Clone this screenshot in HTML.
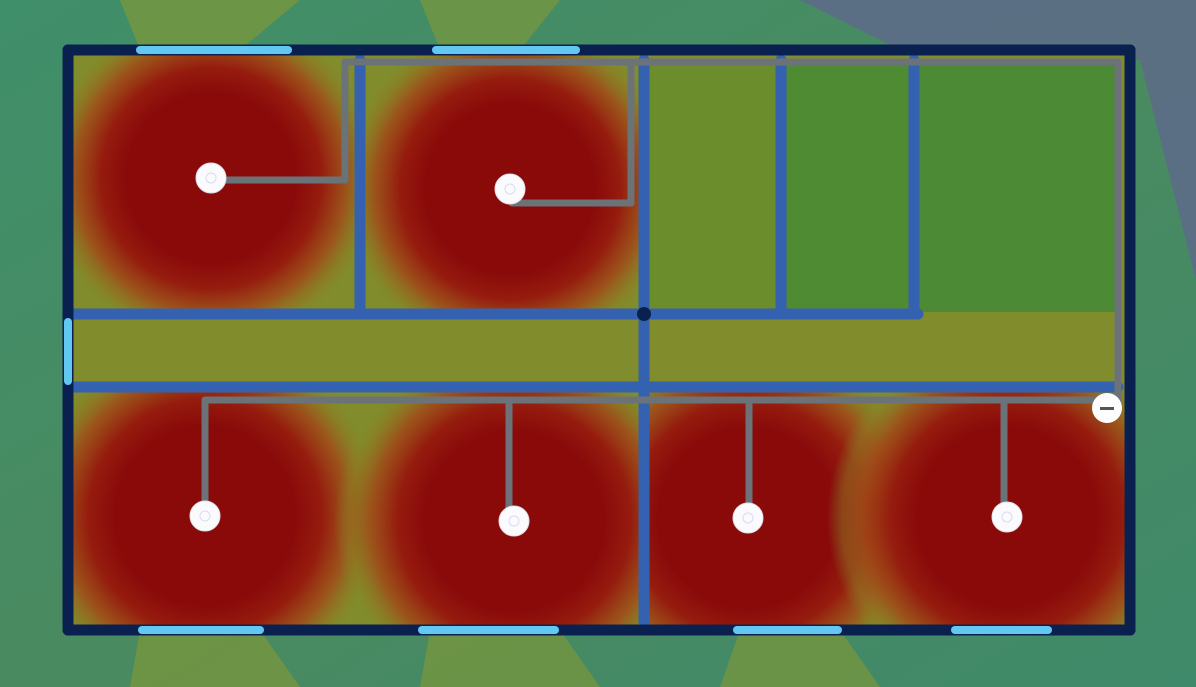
<!DOCTYPE html>
<html><head><meta charset="utf-8"><style>
html,body{margin:0;padding:0;width:1196px;height:687px;overflow:hidden;background:#3f8a6a;font-family:"Liberation Sans",sans-serif}
</style></head><body>
<svg id="plan" width="1196" height="687" viewBox="0 0 1196 687" xmlns="http://www.w3.org/2000/svg">
<defs>
<radialGradient id="heat">
<stop offset="0" stop-color="#8a0a0a"/>
<stop offset="0.5" stop-color="#8a0a0a"/>
<stop offset="0.65" stop-color="#951c0e"/>
<stop offset="0.8" stop-color="#a04a18" stop-opacity="0.85"/>
<stop offset="0.92" stop-color="#8e7a22" stop-opacity="0.5"/>
<stop offset="1" stop-color="#7e8e2a" stop-opacity="0"/>
</radialGradient>
<linearGradient id="outside" x1="0" y1="0" x2="1" y2="1">
<stop offset="0" stop-color="#3f8f6a"/><stop offset="0.5" stop-color="#4a8a60"/><stop offset="1" stop-color="#3f8a6a"/>
</linearGradient>
<clipPath id="inside"><rect x="68" y="50" width="1062" height="580"/></clipPath>
<clipPath id="r0"><rect x="68" y="50" width="292" height="264"/></clipPath>
<clipPath id="r1"><rect x="360" y="50" width="284" height="264"/></clipPath>
<clipPath id="r2"><rect x="68" y="387" width="576" height="243"/></clipPath>
<clipPath id="r3"><rect x="644" y="387" width="486" height="243"/></clipPath>
</defs>
<rect width="1196" height="687" fill="url(#outside)"/>
<polygon points="800,0 1196,0 1196,280 1140,60 900,50" fill="#5e6a8a" opacity="0.85"/>
<polygon points="120,0 300,0 240,50 140,50" fill="#8a9a30" opacity="0.6"/>
<polygon points="420,0 560,0 520,50 440,50" fill="#8a9a30" opacity="0.55"/>
<polygon points="130,687 300,687 260,630 140,630" fill="#8a9a30" opacity="0.55"/>
<polygon points="420,687 600,687 560,630 430,630" fill="#8a9a30" opacity="0.55"/>
<polygon points="720,687 880,687 840,630 740,630" fill="#8a9a30" opacity="0.55"/>
<g clip-path="url(#inside)" id="heatlayer">
<rect x="68" y="50" width="1062" height="580" fill="#818c2c"/>
<rect x="645" y="60" width="136" height="252" fill="#6b8d2c"/>
<rect x="781" y="60" width="133" height="252" fill="#4f8b32"/>
<rect x="914" y="60" width="204" height="252" fill="#4c8a36"/>
</g>
<g id="walls"></g>
<g id="aps"></g>
</svg>
<script>
const apX = [211, 510, 205, 514, 748, 1007];
const apY = [178, 189, 516, 521, 518, 517];
const heatR = [170, 170, 180, 180, 180, 180];
const apRoom = ['r0','r1','r2','r2','r3','r3'];
const NS = 'http://www.w3.org/2000/svg';
function mk(tag, attrs, parent){const e=document.createElementNS(NS,tag);for(const k in attrs)e.setAttribute(k,attrs[k]);parent.appendChild(e);return e;}
const heat = document.getElementById('heatlayer');
apX.forEach((x,i)=>{
  const c = mk('circle',{cx:x,cy:apY[i],r:heatR[i],fill:'url(#heat)','clip-path':'url(#'+apRoom[i]+')'},heat);
  
  
});
const W = document.getElementById('walls');
function line(x1,y1,x2,y2,col,w,name){
  const l = mk('line',{x1,y1,x2,y2,stroke:col,'stroke-width':w,'stroke-linecap':'round'},W);
  
  
}
const blue='#3462b0';
line(68,314,918,314,blue,11,'interior-wall');
line(68,387,1118,387,blue,11,'interior-wall');
line(360,60,360,314,blue,11,'interior-wall');
line(644,60,644,622,blue,11,'interior-wall');
line(781,60,781,310,blue,11,'interior-wall');
line(914,60,914,314,blue,11,'interior-wall');
const navy='#0a2150', win='#62c8f2';
line(68,50,1130,50,navy,11,'exterior-wall');
line(1130,50,1130,630,navy,11,'exterior-wall');
line(68,630,1130,630,navy,11,'exterior-wall');
line(68,50,68,630,navy,11,'exterior-wall');
[[140,288],[436,576]].forEach(s=>line(s[0],50,s[1],50,win,8,'window'));
[[142,260],[422,555],[737,838],[955,1048]].forEach(s=>line(s[0],630,s[1],630,win,8,'window'));
line(68,322,68,381,win,8,'window');
const g='#6b7378';
line(345,62,1118,62,g,7,'cable');
line(1118,62,1118,400,g,7,'cable');
line(205,400,1118,400,g,7,'cable');
line(345,62,345,180,g,7,'cable');
line(211,180,345,180,g,7,'cable');
line(631,62,631,203,g,7,'cable');
line(512,203,631,203,g,7,'cable');
line(205,400,205,516,g,7,'cable');
line(509,400,509,521,g,7,'cable');
line(749,400,749,518,g,7,'cable');
line(1004,400,1004,517,g,7,'cable');
const dot = mk('circle',{cx:644,cy:314,r:7,fill:navy},W);


const A = document.getElementById('aps');
apX.forEach((x,i)=>{
  const c = mk('circle',{cx:x,cy:apY[i],r:15,fill:'#fbfbfd',stroke:'#e0e0ea','stroke-width':1},A);
  
  
  mk('circle',{cx:x,cy:apY[i],r:5,fill:'none',stroke:'#d8dcef','stroke-width':1},A);
});
const sw = mk('circle',{cx:1107,cy:408,r:15,fill:'#fdfdfd'},A);


mk('rect',{x:1100,y:407,width:14,height:3,fill:'#555'},A);
</script>
</body></html>
